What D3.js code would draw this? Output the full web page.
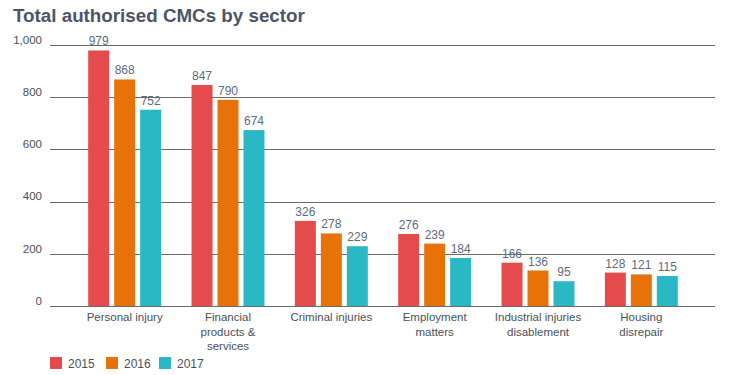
<!DOCTYPE html>
<html>
<head>
<meta charset="utf-8">
<script src="https://cdn.jsdelivr.net/npm/d3@7"></script>
<style>
  body { margin: 0; background: #fff; }
  svg, svg text { font-family: "Liberation Sans", Arial, sans-serif; }
  .title { font-weight: bold; font-size: 18.8px; fill: #4b5567; }
  .axis text { font-size: 11.5px; fill: #4a4f5a; font-family: "Liberation Sans", Arial, sans-serif; }
  .val { font-size: 12px; fill: #5c6a80; text-anchor: middle; }
  .legend text { font-size: 12px; fill: #4a4f5a; }
</style>
</head>
<body>
<div id="chart-area"></div>
<script>

// DATA

var sectors = ["Personal injury", "Financial products & services", "Criminal injuries",
               "Employment matters", "Industrial injuries disablement", "Housing disrepair"];
// wrapped labels as printed
var sectorLines = [["Personal injury"], ["Financial", "products &", "services"], ["Criminal injuries"],
                   ["Employment", "matters"], ["Industrial injuries", "disablement"], ["Housing", "disrepair"]];
var years = ["2015", "2016", "2017"];
var values2015 = [979, 847, 326, 276, 166, 128];
var values2016 = [868, 790, 278, 239, 136, 121];
var values2017 = [752, 674, 229, 184, 95, 115];
var yTicks = [0, 200, 400, 600, 800, 1000];
var colors = ["#e54a4c", "#e8720a", "#2ab8c4"];

var series = [values2015, values2016, values2017];

// CHART AREA

var W = 732, H = 375;
var svg = d3.select("#chart-area").append("svg")
    .attr("width", W)
    .attr("height", H);

svg.append("text")
    .attr("class", "title")
    .attr("x", 13)
    .attr("y", 22)
    .text("Total authorised CMCs by sector");

// SCALES

var y = d3.scaleLinear()
    .domain([0, 1000])
    .range([306, 45]);

var x0 = d3.scaleBand()
    .domain(sectors)
    .range([73, 693])
    .paddingInner(0.294)
    .paddingOuter(0.147);

var x1 = d3.scaleBand()
    .domain(years)
    .range([0, x0.bandwidth()])
    .paddingInner(0.192);

var color = d3.scaleOrdinal().domain(years).range(colors);

// GRID + Y AXIS

var yAxis = d3.axisLeft(y)
    .tickValues(yTicks)
    .tickSize(0)
    .tickFormat(d3.format(","));

var yAxisGroup = svg.append("g")
    .attr("class", "y-axis axis")
    .attr("transform", "translate(50,0)")
    .attr("font-family", null)
    .attr("font-size", null)
    .call(yAxis);

yAxisGroup.select(".domain").remove();
yAxisGroup.selectAll(".tick text")
    .attr("x", -8)
    .attr("dy", "-0.15em");

svg.append("g")
    .selectAll("line")
    .data(yTicks)
    .enter().append("line")
    .attr("x1", 50)
    .attr("x2", 715)
    .attr("y1", function(d) { return Math.round(y(d)) + 0.5; })
    .attr("y2", function(d) { return Math.round(y(d)) + 0.5; })
    .attr("stroke", "#6b6b6b")
    .attr("stroke-width", 1.2);

// BARS

var rows = sectors.map(function(s, i) {
    return { sector: s, vals: years.map(function(yr, j) { return { year: yr, value: series[j][i] }; }) };
});

var groups = svg.selectAll(".group")
    .data(rows)
    .enter().append("g")
    .attr("class", "group")
    .attr("transform", function(d) { return "translate(" + x0(d.sector) + ",0)"; });

groups.selectAll("rect")
    .data(function(d) { return d.vals; })
    .enter().append("rect")
    .attr("x", function(d) { return x1(d.year); })
    .attr("y", function(d) { return y(d.value); })
    .attr("width", x1.bandwidth())
    .attr("height", function(d) { return y(0) - y(d.value); })
    .attr("fill", function(d) { return color(d.year); });

groups.selectAll(".val")
    .data(function(d) { return d.vals; })
    .enter().append("text")
    .attr("class", "val")
    .attr("x", function(d) { return x1(d.year) + x1.bandwidth() / 2; })
    .attr("y", function(d) { return y(d.value) - 5; })
    .text(function(d) { return d.value; });

// X AXIS LABELS

var xAxisGroup = svg.append("g")
    .attr("class", "x-axis axis");

sectors.forEach(function(s, i) {
    var t = xAxisGroup.append("text")
        .attr("x", x0(s) + x0.bandwidth() / 2)
        .attr("y", 321)
        .style("text-anchor", "middle");
    sectorLines[i].forEach(function(line, k) {
        t.append("tspan")
            .attr("x", x0(s) + x0.bandwidth() / 2)
            .attr("dy", k === 0 ? 0 : 14.5)
            .text(line);
    });
});

// LEGEND

var legend = svg.append("g").attr("class", "legend");
var legendX = [50, 106, 159];

years.forEach(function(yr, i) {
    legend.append("rect")
        .attr("x", legendX[i])
        .attr("y", 357)
        .attr("width", 12)
        .attr("height", 12)
        .attr("fill", color(yr));
    legend.append("text")
        .attr("x", legendX[i] + 18)
        .attr("y", 368)
        .text(yr);
});

</script>
</body>
</html>
